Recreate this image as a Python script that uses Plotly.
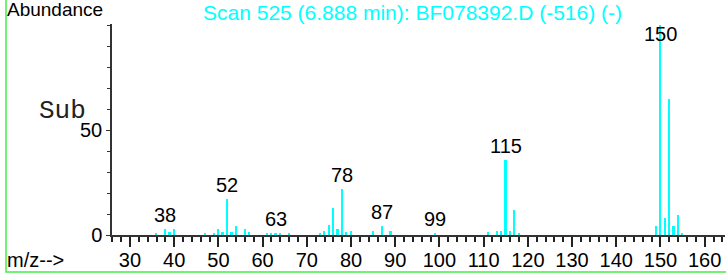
import plotly.graph_objects as go

# m/z values and relative abundances
mz = [36, 38, 39, 40, 47, 49, 50, 51, 52, 53, 54, 56, 57, 61, 62, 63, 64, 66,
      73, 74, 75, 76, 77, 78, 79, 80, 85, 87, 89, 99, 111, 113, 114, 115, 116,
      117, 118, 149, 150, 151, 152, 153, 154, 155]
abundance = [1.0, 2.8, 1.3, 2.8, 1.0, 1.0, 2.7, 1.3, 17.0, 1.4, 4.3, 2.8, 1.3,
             1.0, 1.0, 1.0, 1.0, 1.0, 1.0, 2.0, 4.9, 12.7, 2.9, 21.8, 1.2, 2.0,
             2.0, 4.4, 2.0, 1.0, 1.2, 2.0, 2.0, 35.7, 2.0, 12.0, 1.0, 4.3, 100.0,
             7.9, 64.6, 4.3, 9.5, 1.1]

label_mz = [38, 52, 63, 78, 87, 99, 115, 150]
label_text = ["38", "52", "63", "78", "87", "99", "115", "150"]

x_ticks = [30, 40, 50, 60, 70, 80, 90, 100, 110, 120, 130, 140, 150, 160]
y_ticks = [0, 50]

title_text = "Scan 525 (6.888 min): BF078392.D (-516) (-)"

W, H = 726, 273
L, R, T, B = 112, 1, 24, 38
pw, ph = W - L - R, H - T - B

FONT = "Liberation Sans, Arial, sans-serif"

fig = go.Figure()
fig.add_trace(go.Bar(x=mz, y=abundance, width=0.4,
                     marker=dict(color="#00ffff", line=dict(width=0)),
                     hoverinfo="x+y"))

ab_map = dict(zip(mz, abundance))
LABEL_CAP = 89
annotations = []
for m, t in zip(label_mz, label_text):
    v = ab_map.get(m, 0)
    annotations.append(dict(x=m, y=min(v, LABEL_CAP), xref="x", yref="y",
                            text=t, showarrow=False, yanchor="bottom",
                            xanchor="center", yshift=1,
                            font=dict(family=FONT, size=20, color="black")))

def px_x(p):
    return (p - L) / pw

def px_y(p):
    return (H - B - p) / ph

annotations += [
    dict(text="Abundance", xref="paper", yref="paper", x=px_x(5), y=px_y(10),
         xanchor="left", yanchor="middle", showarrow=False,
         font=dict(family=FONT, size=19, color="black")),
    dict(text=title_text, xref="paper", yref="paper", x=px_x(412), y=px_y(12),
         xanchor="center", yanchor="middle", showarrow=False,
         font=dict(family=FONT, size=21, color="#00ffff")),
    dict(text="Sub", xref="paper", yref="paper", x=px_x(37), y=px_y(111),
         xanchor="left", yanchor="middle", showarrow=False,
         font=dict(family="Courier New, Liberation Mono, monospace", size=26,
                   color="#222222")),
    dict(text="m/z-->", xref="paper", yref="paper", x=px_x(5), y=px_y(260),
         xanchor="left", yanchor="middle", showarrow=False,
         font=dict(family=FONT, size=20, color="black")),
]

fig.update_layout(
    width=W, height=H,
    margin=dict(l=L, r=R, t=T, b=B, pad=0, autoexpand=False),
    paper_bgcolor="white", plot_bgcolor="white",
    showlegend=False, bargap=0,
    annotations=annotations,
    shapes=[dict(type="rect", xref="paper", yref="paper",
                 x0=px_x(6), x1=px_x(740), y0=px_y(272), y1=px_y(-10),
                 line=dict(color="#44ee44", width=1.5), layer="below")],
    font=dict(family=FONT, size=20, color="black"),
)

fig.update_xaxes(range=[25.93, 164.6], tickvals=x_ticks, automargin=False,
                 ticks="outside", ticklen=10, tickwidth=1.5, tickcolor="#222",
                 showline=True, linecolor="#333", linewidth=1.5,
                 showgrid=False, zeroline=False, ticklabelstandoff=-4,
                 tickfont=dict(family=FONT, size=20, color="black"),
                 minor=dict(dtick=2, tick0=0, ticklen=5, ticks="outside",
                            tickwidth=1.5, tickcolor="#222", showgrid=False))
fig.update_yaxes(range=[0, 100.5], tickvals=y_ticks, automargin=False,
                 ticks="outside", ticklen=4, tickwidth=1, tickcolor="#333",
                 showline=True, linecolor="#333", linewidth=1.5,
                 showgrid=False, zeroline=False,
                 tickfont=dict(family=FONT, size=20, color="black"),
                 minor=dict(dtick=10, tick0=0, ticklen=3, ticks="outside",
                            tickwidth=1, tickcolor="#333", showgrid=False))

fig.write_html("out.html",
               config={"displayModeBar": False},
               post_script="document.body.style.margin='0px';"
                           "document.body.style.overflow='hidden';")
